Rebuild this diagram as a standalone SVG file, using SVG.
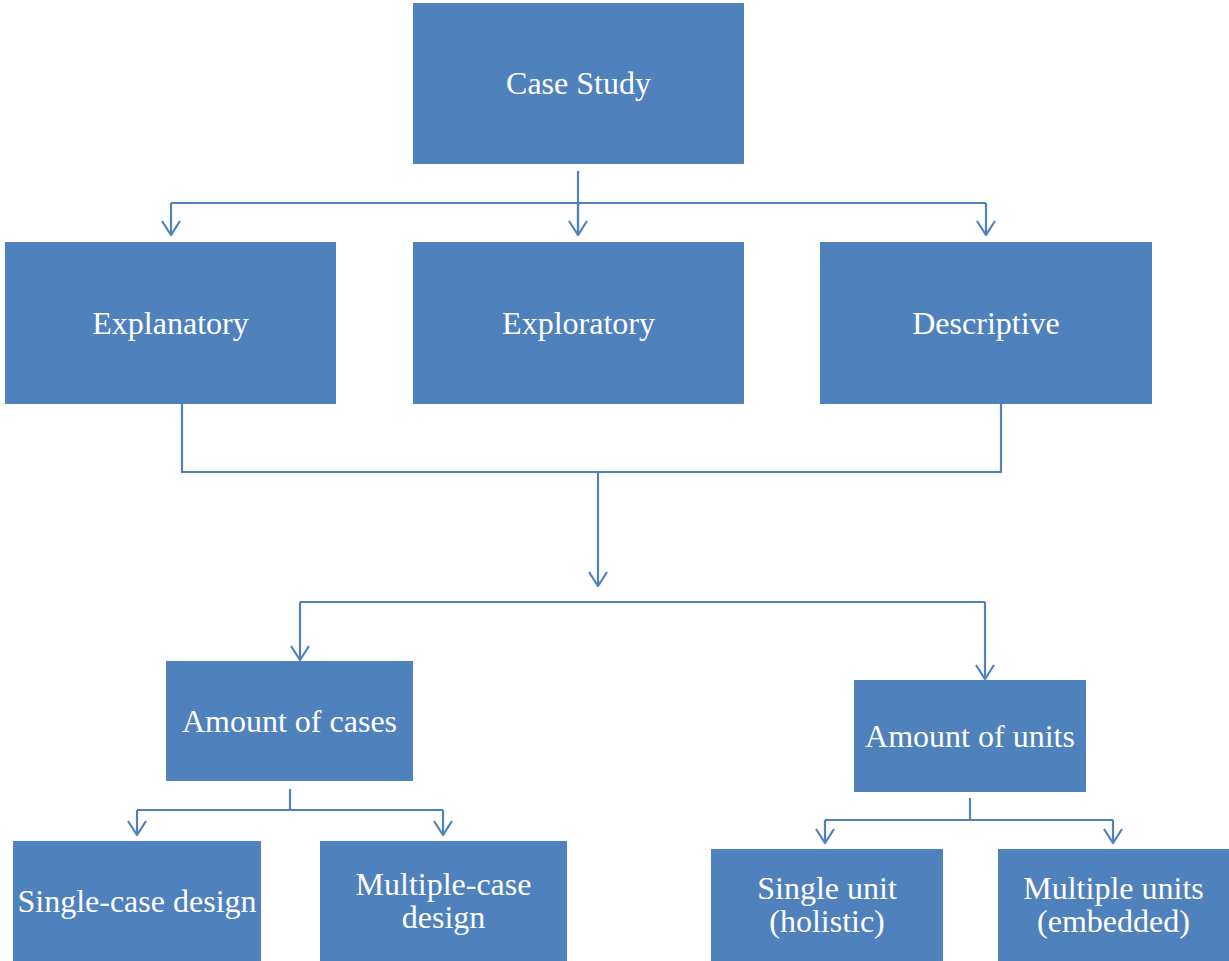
<svg xmlns="http://www.w3.org/2000/svg" width="1229" height="961" viewBox="0 0 1229 961">
  <style>
    .box { fill: #4F81BD; }
    .label { fill: #ffffff; font-family: "Liberation Serif", "Times New Roman", serif; font-size: 32px; text-anchor: middle; }
    .wire { fill: none; stroke: #4F81BD; stroke-width: 2.2; }
  </style>
  <defs>
    <!-- open V arrowhead, drawn pointing along +x so orient="auto" turns it with the line -->
    <marker id="vee" viewBox="0 0 16 20" refX="15" refY="10" markerWidth="16" markerHeight="20" markerUnits="userSpaceOnUse" orient="auto">
      <path d="M1,1 L15,10 L1,19" fill="none" stroke="#4F81BD" stroke-width="2.2"/>
    </marker>
  </defs>
  <rect width="1229" height="961" fill="#ffffff"/>

  <g id="connectors">
    <!-- Case Study to three study types -->
    <path class="wire" d="M578,171 V235"/>
    <path class="wire" d="M171,203 H986"/>
    <path class="wire" d="M171,203 V235" marker-end="url(#vee)"/>
    <path class="wire" d="M578,203 V235" marker-end="url(#vee)"/>
    <path class="wire" d="M986,203 V235" marker-end="url(#vee)"/>
    <!-- study types merge into design dimensions -->
    <path class="wire" d="M182,404 V472 H1001 V404"/>
    <path class="wire" d="M598,472 V586" marker-end="url(#vee)"/>
    <path class="wire" d="M300,602 H985"/>
    <path class="wire" d="M300,602 V660" marker-end="url(#vee)"/>
    <path class="wire" d="M985,602 V679" marker-end="url(#vee)"/>
    <!-- Amount of cases split -->
    <path class="wire" d="M290,789 V810"/>
    <path class="wire" d="M137,810 H443"/>
    <path class="wire" d="M137,810 V835" marker-end="url(#vee)"/>
    <path class="wire" d="M443,810 V835" marker-end="url(#vee)"/>
    <!-- Amount of units split -->
    <path class="wire" d="M970,798 V820"/>
    <path class="wire" d="M825,820 H1113"/>
    <path class="wire" d="M825,820 V843" marker-end="url(#vee)"/>
    <path class="wire" d="M1113,820 V843" marker-end="url(#vee)"/>
  </g>

  <g id="case-study">
    <rect class="box" x="413" y="3" width="331" height="161"/>
    <text class="label" x="578.5" y="94">Case Study</text>
  </g>
  <g id="explanatory">
    <rect class="box" x="5" y="242" width="331" height="162"/>
    <text class="label" x="170.5" y="334">Explanatory</text>
  </g>
  <g id="exploratory">
    <rect class="box" x="413" y="242" width="331" height="162"/>
    <text class="label" x="578.5" y="334">Exploratory</text>
  </g>
  <g id="descriptive">
    <rect class="box" x="820" y="242" width="332" height="162"/>
    <text class="label" x="986" y="334">Descriptive</text>
  </g>
  <g id="amount-of-cases">
    <rect class="box" x="166" y="661" width="247" height="120"/>
    <text class="label" x="289.5" y="732">Amount of cases</text>
  </g>
  <g id="amount-of-units">
    <rect class="box" x="854" y="680" width="232" height="112"/>
    <text class="label" x="970" y="747">Amount of units</text>
  </g>
  <g id="single-case-design">
    <rect class="box" x="13" y="841" width="248" height="120"/>
    <text class="label" x="137" y="912">Single-case design</text>
  </g>
  <g id="multiple-case-design">
    <rect class="box" x="320" y="841" width="247" height="120"/>
    <text class="label" x="443.5" y="895">Multiple-case</text>
    <text class="label" x="443.5" y="928">design</text>
  </g>
  <g id="single-unit">
    <rect class="box" x="711" y="849" width="232" height="112"/>
    <text class="label" x="827" y="899">Single unit</text>
    <text class="label" x="827" y="932">(holistic)</text>
  </g>
  <g id="multiple-units">
    <rect class="box" x="998" y="849" width="231" height="112"/>
    <text class="label" x="1113.5" y="899">Multiple units</text>
    <text class="label" x="1113.5" y="932">(embedded)</text>
  </g>
</svg>
